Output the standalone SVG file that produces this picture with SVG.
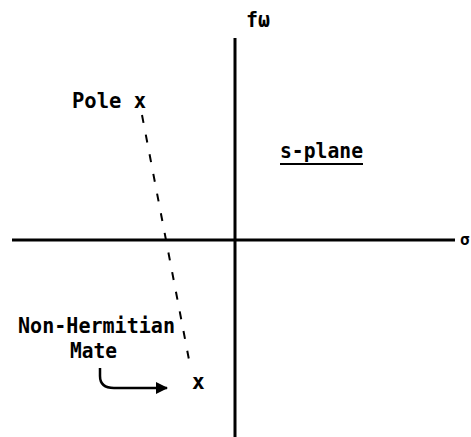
<svg xmlns="http://www.w3.org/2000/svg" width="471" height="437" viewBox="0 0 471 437">
<style>
.t{font-family:"DejaVu Sans Mono","Liberation Mono",monospace;font-weight:bold;font-size:21px;fill:#000}
.ax{stroke:#000;stroke-width:3;fill:none}
</style>
<defs>
<marker id="ah" markerWidth="12" markerHeight="12" refX="11" refY="6" orient="auto" markerUnits="userSpaceOnUse"><path d="M0,0 L12,6 L0,12 Z" fill="#000"/></marker>
</defs>
<rect width="471" height="437" fill="#fff"/>
<g id="axes">
<line class="ax" x1="235" y1="38" x2="235" y2="437"/>
<line class="ax" x1="12" y1="240" x2="455" y2="240"/>
</g>
<g id="connectors">
<line x1="142" y1="115" x2="190" y2="365" stroke="#000" stroke-width="2" stroke-dasharray="8,12"/>
<path d="M100,368 L100,376 Q100,388 114,388 L167,388" fill="none" stroke="#000" stroke-width="2.5" marker-end="url(#ah)"/>
</g>
<g id="label-f"><text class="t" x="246" y="27" textLength="24" lengthAdjust="spacingAndGlyphs">fω</text></g>
<g id="label-sigma"><text class="t" x="460" y="245" font-size="16" style="font-size:16px">σ</text></g>
<g id="pole"><text class="t" x="72" y="108" textLength="74" lengthAdjust="spacingAndGlyphs">Pole x</text></g>
<g id="splane"><text class="t" x="280" y="158" textLength="83" lengthAdjust="spacingAndGlyphs">s-plane</text>
<line x1="280" y1="164" x2="363" y2="164" stroke="#000" stroke-width="2"/></g>
<g id="mate-label"><text class="t" x="18" y="333" textLength="157" lengthAdjust="spacingAndGlyphs">Non-Hermitian</text>
<text class="t" x="70" y="358" textLength="47" lengthAdjust="spacingAndGlyphs">Mate</text></g>
<g id="mate"><text class="t" x="192" y="389">x</text></g>
</svg>
